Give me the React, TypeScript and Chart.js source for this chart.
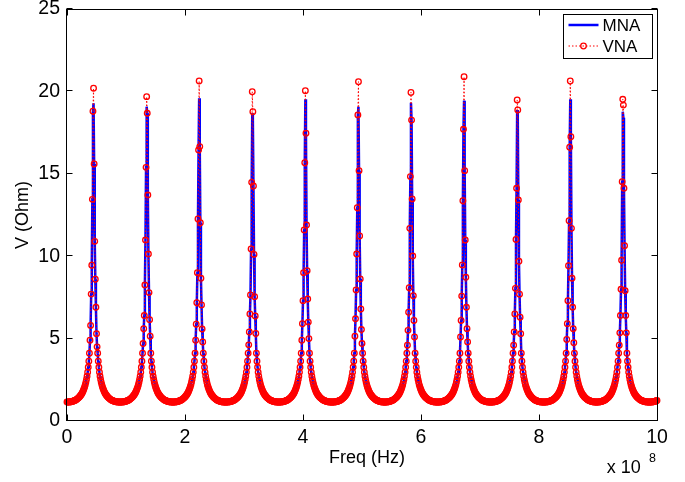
import { useEffect, useRef } from "react";
import { Chart, registerables } from "chart.js";

Chart.register(...registerables);

// ---------------- data (frequency in units of 1e8 Hz) ----------------
const freqStep = 0.01; // spacing of the measured samples
const sampleCount = 1001; // 0 .. 10 (x 1e8 Hz)

// resonance frequencies (the last one lies just past the axis;
// only its rising skirt is visible at the right edge)
const resonanceFreqs = [0.45, 1.35, 2.24, 3.14, 4.04, 4.94, 5.83, 6.73, 7.63, 8.53, 9.42, 10.32];

// |Z| in the skirts, at 7 .. 45 samples away from the nearest resonance (Ohm)
const troughProfile = [
  4.11, 3.63, 3.26, 2.96, 2.72, 2.52, 2.35, 2.2, 2.08, 1.97, 1.88, 1.79, 1.72, 1.66, 1.6, 1.55,
  1.5, 1.46, 1.42, 1.39, 1.36, 1.33, 1.3, 1.28, 1.26, 1.25, 1.23, 1.22, 1.2, 1.19, 1.18, 1.17,
  1.17, 1.16, 1.16, 1.15, 1.15, 1.15, 1.15,
];

// VNA samples around each resonance: offsets -6 .. +6 samples
const vnaPeaks = [
  [4.9, 5.8, 7.7, 9.45, 13.45, 18.8, 20.19, 15.6, 10.9, 8.6, 6.9, 5.3, 4.5],
  [4.7, 5.6, 6.4, 8.25, 10.98, 15.39, 19.68, 18.67, 13.71, 10.13, 7.79, 6.15, 5.15],
  [4.9, 5.87, 7.18, 9.0, 12.26, 16.44, 20.63, 16.65, 12.03, 8.66, 7.04, 5.58, 4.8],
  [4.62, 5.4, 6.5, 7.65, 10.44, 14.48, 19.98, 18.77, 14.26, 10.11, 7.54, 6.37, 5.31],
  [4.9, 5.9, 7.3, 9.0, 11.59, 15.67, 20.04, 17.46, 11.89, 9.12, 7.4, 6.0, 5.0],
  [5.15, 6.2, 7.95, 10.13, 12.94, 18.57, 20.59, 15.19, 11.23, 8.62, 6.8, 5.55, 4.7],
  [4.6, 5.5, 6.6, 8.09, 11.69, 14.83, 19.94, 18.26, 13.47, 10.01, 7.6, 6.1, 5.1],
  [5.1, 6.1, 7.58, 9.47, 13.37, 17.7, 20.89, 15.19, 10.98, 8.72, 6.9, 5.6, 4.8],
  [4.6, 5.4, 6.5, 8.05, 11.02, 14.12, 19.48, 18.87, 13.41, 9.69, 7.69, 6.3, 5.3],
  [4.95, 5.9, 7.3, 9.42, 12.15, 16.61, 20.63, 17.25, 11.69, 8.66, 6.9, 5.6, 4.75],
  [4.6, 5.35, 6.4, 7.99, 9.75, 14.52, 19.52, 19.17, 14.12, 10.64, 7.9, 6.4, 5.35],
];

// MNA samples around each resonance: offsets -6 .. +6 samples
const mnaPeaks = [
  [4.9, 5.8, 7.7, 9.45, 13.45, 18.8, 19.28, 15.6, 10.9, 8.6, 6.9, 5.3, 4.5],
  [4.7, 5.6, 6.4, 8.25, 10.98, 15.39, 19.07, 18.67, 13.71, 10.13, 7.79, 6.15, 5.15],
  [4.9, 5.87, 7.18, 9.0, 12.26, 16.44, 19.58, 16.65, 12.03, 8.66, 7.04, 5.58, 4.8],
  [4.62, 5.4, 6.5, 7.65, 10.44, 14.48, 18.67, 18.3, 14.26, 10.11, 7.54, 6.37, 5.31],
  [4.9, 5.9, 7.3, 9.0, 11.59, 15.67, 19.52, 17.46, 11.89, 9.12, 7.4, 6.0, 5.0],
  [5.15, 6.2, 7.95, 10.13, 12.94, 18.57, 19.07, 15.19, 11.23, 8.62, 6.8, 5.55, 4.7],
  [4.6, 5.5, 6.6, 8.09, 11.69, 14.83, 19.31, 18.26, 13.47, 10.01, 7.6, 6.1, 5.1],
  [5.1, 6.1, 7.58, 9.47, 13.37, 17.7, 19.44, 15.19, 10.98, 8.72, 6.9, 5.6, 4.8],
  [4.6, 5.4, 6.5, 8.05, 11.02, 14.12, 18.87, 18.5, 13.41, 9.69, 7.69, 6.3, 5.3],
  [4.95, 5.9, 7.3, 9.42, 12.15, 16.61, 19.52, 17.25, 11.69, 8.66, 6.9, 5.6, 4.75],
  [4.6, 5.35, 6.4, 7.99, 9.75, 14.52, 18.77, 18.4, 14.12, 10.64, 7.9, 6.4, 5.35],
];

const xTicks = [0, 2, 4, 6, 8, 10];
const yTicks = [0, 5, 10, 15, 20, 25];
const seriesLabels = ["MNA", "VNA"];

// assemble the sample table from the read arrays
function buildSeries(peaks: number[][]) {
  const pts: { x: number; y: number }[] = [];
  for (let i = 0; i < sampleCount; i++) {
    const x = Number((i * freqStep).toFixed(2));
    let best = 0;
    let bestJ = Infinity;
    resonanceFreqs.forEach((f, k) => {
      const j = Math.round((x - f) / freqStep);
      if (Math.abs(j) < Math.abs(bestJ)) {
        bestJ = j;
        best = k;
      }
    });
    let y: number;
    if (Math.abs(bestJ) <= 6 && peaks[best]) y = peaks[best][bestJ + 6];
    else y = troughProfile[Math.min(Math.abs(bestJ), 45) - 7];
    pts.push({ x, y });
  }
  return pts;
}

const FONT = "'Liberation Sans', Arial, Helvetica, sans-serif";
const RED = "#ff0000";
const BLUE = "#0000ff";

const framePlugin = {
  id: "matlabFrame",
  afterDatasetsDraw(chart: any) {
    const { ctx, chartArea } = chart;
    const { left, right, top, bottom } = chartArea;
    const xs = chart.scales.x;
    const ys = chart.scales.y;
    ctx.save();
    ctx.setLineDash([]);
    ctx.strokeStyle = "#000";
    ctx.lineWidth = 1;
    const L = Math.round(left) - 0.5;
    const R = Math.round(right) + 0.5;
    const T = Math.round(top) + 0.5;
    const B = Math.round(bottom) - 0.5;
    ctx.strokeRect(L, T, R - L, B - T);
    ctx.beginPath();
    xTicks.forEach((v) => {
      const p = Math.round(xs.getPixelForValue(v)) + 0.5;
      ctx.moveTo(p, B);
      ctx.lineTo(p, B - 6);
      ctx.moveTo(p, T);
      ctx.lineTo(p, T + 6);
    });
    yTicks.forEach((v) => {
      const p = Math.round(ys.getPixelForValue(v)) - 0.5;
      ctx.moveTo(L, p);
      ctx.lineTo(L + 6, p);
      ctx.moveTo(R, p);
      ctx.lineTo(R - 6, p);
    });
    ctx.stroke();

    // legend box (inside the axes, top right)
    const bx = R - 94;
    const by = T + 5;
    const bw = 89;
    const bh = 44;
    ctx.fillStyle = "#fff";
    ctx.fillRect(bx, by, bw, bh);
    ctx.strokeStyle = "#000";
    ctx.strokeRect(bx, by, bw, bh);
    // MNA sample
    ctx.strokeStyle = BLUE;
    ctx.lineWidth = 2.5;
    ctx.beginPath();
    ctx.moveTo(bx + 5, by + 10.5);
    ctx.lineTo(bx + 35, by + 10.5);
    ctx.stroke();
    // VNA sample
    ctx.strokeStyle = RED;
    ctx.lineWidth = 1;
    ctx.setLineDash([1.5, 2]);
    ctx.beginPath();
    ctx.moveTo(bx + 5, by + 31.5);
    ctx.lineTo(bx + 35, by + 31.5);
    ctx.stroke();
    ctx.setLineDash([]);
    ctx.lineWidth = 1.3;
    ctx.beginPath();
    ctx.arc(bx + 20, by + 31.5, 2.8, 0, Math.PI * 2);
    ctx.stroke();
    ctx.fillStyle = "#000";
    ctx.font = `17px ${FONT}`;
    ctx.textAlign = "left";
    ctx.textBaseline = "middle";
    ctx.fillText(seriesLabels[0], bx + 39, by + 12);
    ctx.fillText(seriesLabels[1], bx + 39, by + 33);
    ctx.restore();
  },
  afterDraw(chart: any) {
    const { ctx, chartArea } = chart;
    const { left, right, top, bottom } = chartArea;
    ctx.save();
    ctx.fillStyle = "#000";
    ctx.font = `18px ${FONT}`;
    ctx.textAlign = "center";
    ctx.textBaseline = "alphabetic";
    ctx.fillText("Freq (Hz)", (left + right) / 2 + 5, bottom + 42);
    ctx.save();
    ctx.translate(left - 39, (top + bottom) / 2);
    ctx.rotate(-Math.PI / 2);
    ctx.fillText("V (Ohm)", 0, 0);
    ctx.restore();
    ctx.textAlign = "left";
    ctx.fillText("x 10", right - 50.3, bottom + 52.3);
    ctx.font = `12.5px ${FONT}`;
    ctx.fillText("8", right - 8, bottom + 41.3);
    ctx.restore();
  },
};

export default function App() {
  const ref = useRef<HTMLCanvasElement>(null);
  useEffect(() => {
    const canvas = ref.current;
    if (!canvas) return;
    const tickFont = { family: FONT, size: 19.5 };
    const chart = new Chart(canvas, {
      type: "line",
      data: {
        datasets: [
          {
            label: seriesLabels[0],
            data: buildSeries(mnaPeaks),
            borderColor: BLUE,
            borderWidth: 2.5,
            pointRadius: 0,
            tension: 0,
            order: 1,
          },
          {
            label: seriesLabels[1],
            data: buildSeries(vnaPeaks),
            borderColor: RED,
            borderWidth: 1,
            borderDash: [1.5, 2],
            pointRadius: 2.8,
            pointBorderWidth: 1.3,
            pointBorderColor: RED,
            pointBackgroundColor: "rgba(255,255,255,0)",
            tension: 0,
            order: 0,
            clip: false,
          },
        ],
      } as any,
      options: {
        responsive: false,
        animation: false,
        devicePixelRatio: 1,
        events: [],
        layout: { padding: { left: 0, top: 9, right: 28, bottom: 0 } },
        plugins: { legend: { display: false }, tooltip: { enabled: false } },
        scales: {
          x: {
            type: "linear",
            min: 0,
            max: 10,
            afterBuildTicks: (s: any) => {
              s.ticks = xTicks.map((v) => ({ value: v }));
            },
            ticks: { padding: 5, font: tickFont, color: "#000", maxRotation: 0, autoSkip: false },
            grid: { display: false, drawTicks: false },
            border: { display: false },
            afterFit: (s: any) => {
              s.height = 61;
              s.paddingLeft = 0;
              s.paddingRight = 0;
            },
          },
          y: {
            type: "linear",
            min: 0,
            max: 25,
            afterBuildTicks: (s: any) => {
              s.ticks = yTicks.map((v) => ({ value: v }));
            },
            ticks: { padding: 7, font: tickFont, color: "#000", autoSkip: false },
            grid: { display: false, drawTicks: false },
            border: { display: false },
            afterFit: (s: any) => {
              s.width = 67;
              s.paddingTop = 0;
              s.paddingBottom = 0;
            },
          },
        },
      } as any,
      plugins: [framePlugin],
    });
    return () => chart.destroy();
  }, []);
  return (
    <div style={{ position: "fixed", left: 0, top: 0, width: 685, height: 482, background: "#fff" }}>
      <canvas ref={ref} width={685} height={482} style={{ display: "block" }} />
    </div>
  );
}
